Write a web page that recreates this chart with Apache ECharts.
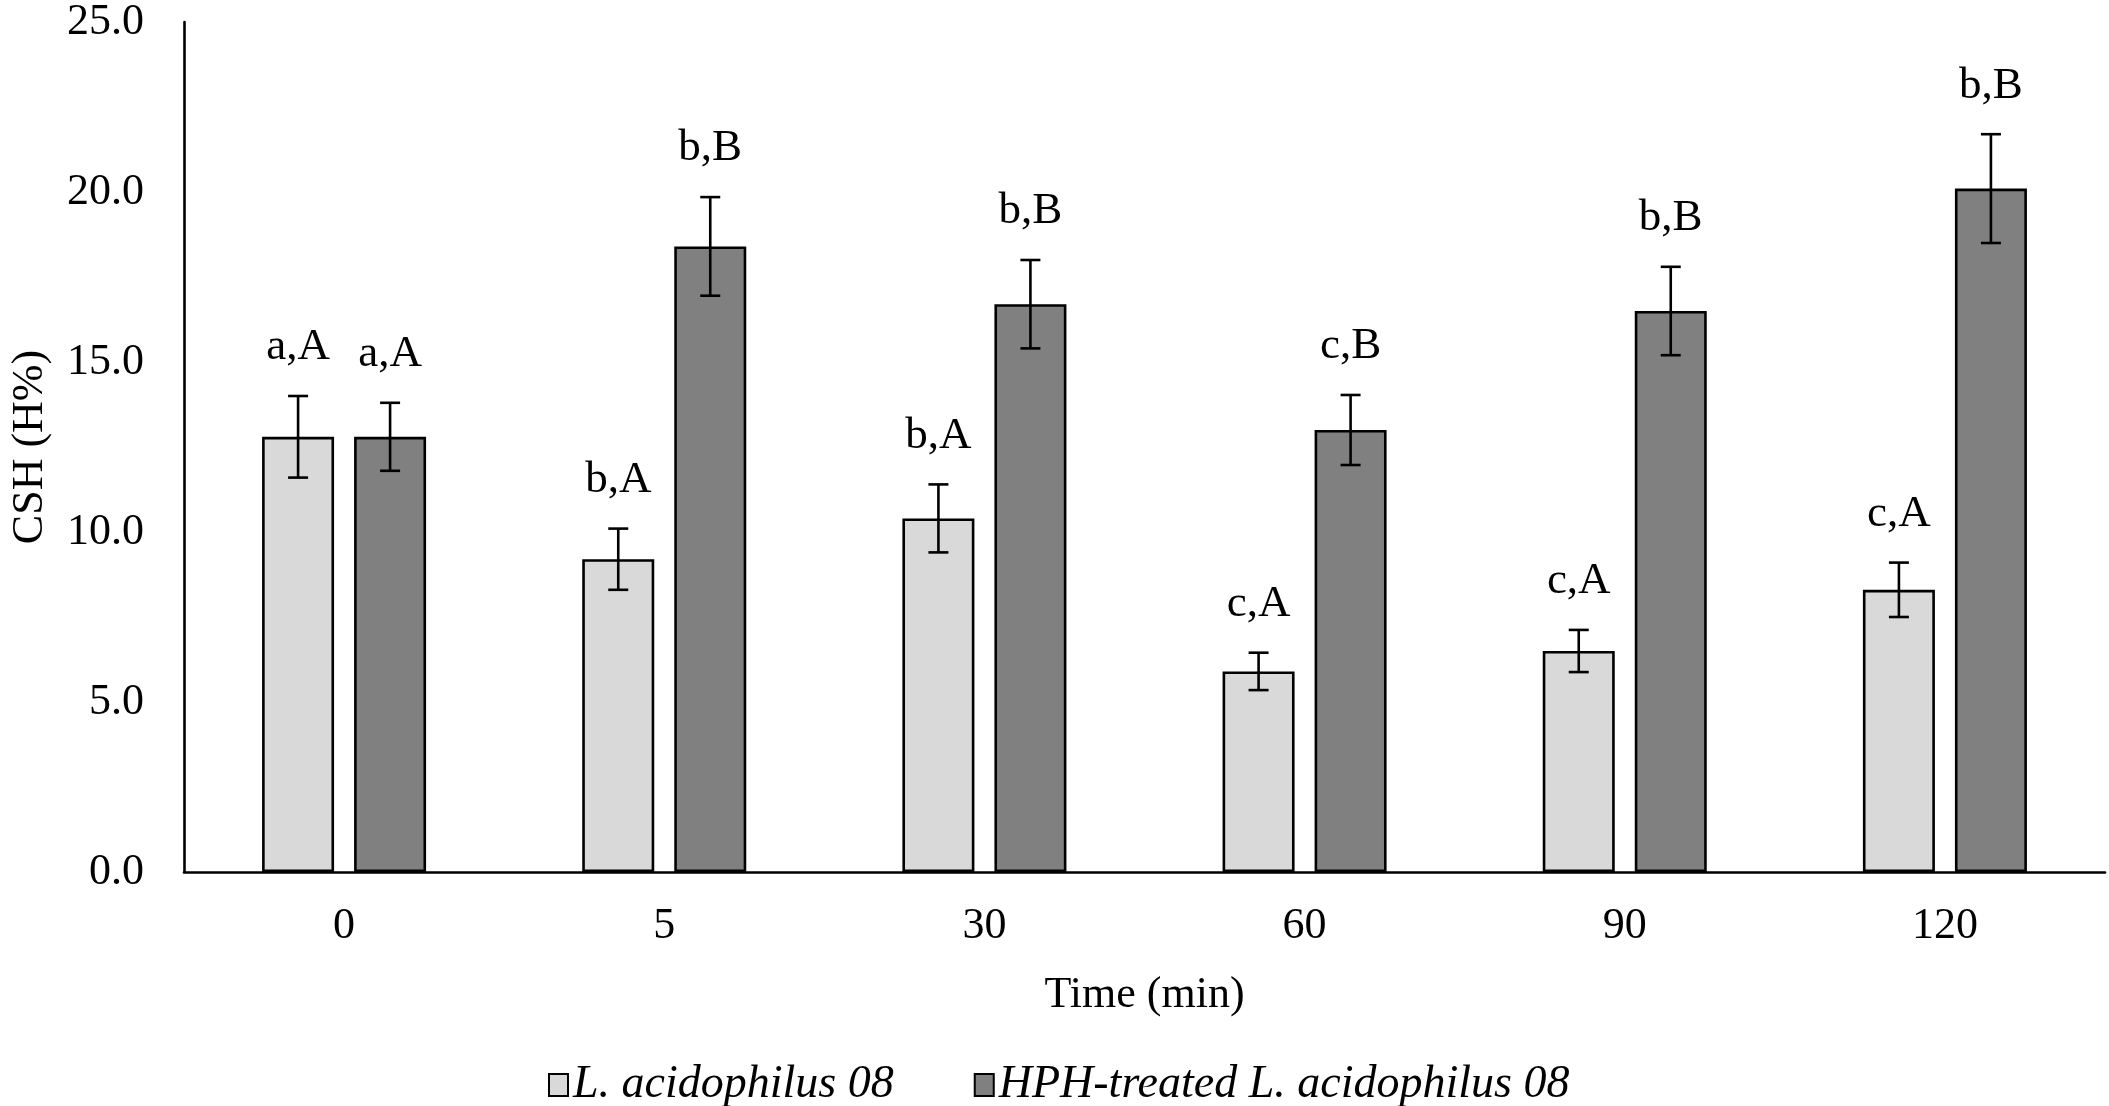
<!DOCTYPE html>
<html>
<head>
<meta charset="utf-8">
<script src="https://cdn.jsdelivr.net/npm/echarts@6/dist/echarts.min.js"></script>
<style>
html,body{margin:0;padding:0;background:#fff;}
#chart{width:2109px;height:1106px;}
</style>
</head>
<body>
<div id="chart"></div>
<script>
const categories = ['0', '5', '30', '60', '90', '120'];
const seriesNames = ['L. acidophilus 08', 'HPH-treated L. acidophilus 08'];
const controlValues = [12.8, 9.2, 10.4, 5.9, 6.5, 8.3];
const controlErrors = [1.2, 0.9, 1.0, 0.55, 0.62, 0.8];
const controlLetters = ['a,A', 'b,A', 'b,A', 'c,A', 'c,A', 'c,A'];
const hphValues = [12.8, 18.4, 16.7, 13.0, 16.5, 20.1];
const hphErrors = [1.0, 1.45, 1.3, 1.03, 1.3, 1.6];
const hphLetters = ['a,A', 'b,B', 'b,B', 'c,B', 'b,B', 'b,B'];
const yTicks = [0, 5, 10, 15, 20, 25];

const FONT = 'Liberation Serif';
const BAR_W = 72;
const BAR_GAP = 20;
const OFFSET = (BAR_W + BAR_GAP) / 2;

function errorRenderer(shift, letters) {
  return function (params, api) {
    const ci = api.value(0), v = api.value(1), e = api.value(2);
    const top = api.coord([ci, v + e]);
    const bot = api.coord([ci, v - e]);
    const x = top[0] + shift * OFFSET;
    const cap = 10;
    const st = { stroke: '#000', lineWidth: 2.6 };
    return {
      type: 'group',
      children: [
        { type: 'line', shape: { x1: x, y1: top[1], x2: x, y2: bot[1] }, style: st },
        { type: 'line', shape: { x1: x - cap, y1: top[1], x2: x + cap, y2: top[1] }, style: st },
        { type: 'line', shape: { x1: x - cap, y1: bot[1], x2: x + cap, y2: bot[1] }, style: st },
        { type: 'text', style: { text: letters[params.dataIndex], x: x, y: top[1] - 26,
            align: 'center', verticalAlign: 'bottom', fill: '#000',
            font: '45px "' + FONT + '"' } }
      ]
    };
  };
}

const chart = echarts.init(document.getElementById('chart'));
chart.setOption({
  animation: false,
  backgroundColor: '#fff',
  textStyle: { fontFamily: FONT, color: '#000' },
  grid: { left: 178, right: 4, top: 20, bottom: 234, containLabel: false },
  legend: {
    data: seriesNames,
    left: 543, top: 1057,
    itemWidth: 19, itemHeight: 22, itemGap: 80,
    icon: 'rect',
    textStyle: { fontFamily: FONT, fontSize: 46, fontStyle: 'italic', color: '#000' }
  },
  xAxis: {
    type: 'category',
    data: categories,
    name: 'Time (min)',
    nameLocation: 'middle',
    nameGap: 101,
    nameTextStyle: { fontFamily: FONT, fontSize: 44, color: '#000' },
    axisLine: { lineStyle: { color: '#000', width: 2.6 } },
    axisTick: { show: false },
    axisLabel: { margin: 32, fontFamily: FONT, fontSize: 44, color: '#000' }
  },
  yAxis: {
    type: 'value',
    min: yTicks[0], max: yTicks[yTicks.length - 1], interval: 5,
    name: 'CSH (H%)',
    nameLocation: 'middle',
    nameGap: 132,
    nameTextStyle: { fontFamily: FONT, fontSize: 44, color: '#000' },
    axisLine: { show: true, lineStyle: { color: '#000', width: 2.6 } },
    axisTick: { show: false },
    splitLine: { show: false },
    axisLabel: { margin: 40, fontFamily: FONT, fontSize: 44, color: '#000',
      formatter: v => v.toFixed(1) }
  },
  series: [
    {
      name: seriesNames[0], type: 'bar', data: controlValues,
      barWidth: BAR_W, barGap: (BAR_GAP / BAR_W * 100).toFixed(1) + '%',
      itemStyle: { color: '#d9d9d9', borderColor: '#000', borderWidth: 2.6 }
    },
    {
      name: seriesNames[1], type: 'bar', data: hphValues,
      barWidth: BAR_W,
      itemStyle: { color: '#808080', borderColor: '#000', borderWidth: 2.6 }
    },
    {
      type: 'custom', name: 'err0', z: 10,
      renderItem: errorRenderer(-1, controlLetters),
      data: controlValues.map((v, i) => [i, v, controlErrors[i]])
    },
    {
      type: 'custom', name: 'err1', z: 10,
      renderItem: errorRenderer(1, hphLetters),
      data: hphValues.map((v, i) => [i, v, hphErrors[i]])
    }
  ]
});
</script>
</body>
</html>
